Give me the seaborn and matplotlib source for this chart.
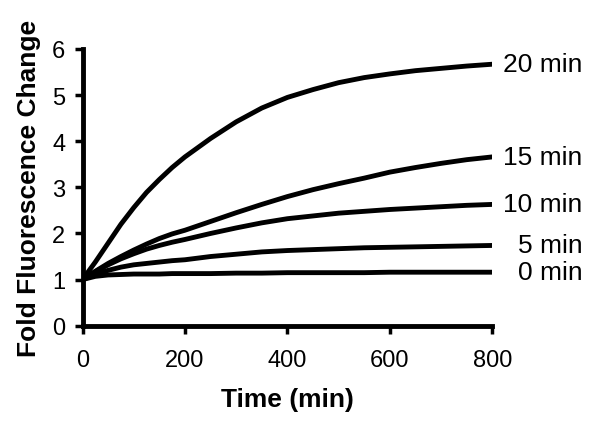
import pandas as pd
import matplotlib
matplotlib.use("Agg")
import matplotlib.pyplot as plt
import seaborn as sns

# values
time = [0, 25, 50, 75, 100, 125, 150, 175, 200, 250, 300, 350, 400, 450, 500, 550, 600, 650, 700, 750, 800]
min20 = [1.0, 1.38, 1.79, 2.2, 2.56, 2.89, 3.17, 3.43, 3.66, 4.06, 4.42, 4.72, 4.95, 5.12, 5.27, 5.38, 5.46, 5.53, 5.58, 5.63, 5.67]
min15 = [1.0, 1.18, 1.35, 1.5, 1.64, 1.77, 1.89, 1.99, 2.07, 2.26, 2.45, 2.63, 2.8, 2.95, 3.08, 3.2, 3.33, 3.43, 3.52, 3.6, 3.66]
min10 = [1.0, 1.17, 1.32, 1.45, 1.56, 1.66, 1.74, 1.81, 1.87, 2.0, 2.12, 2.23, 2.32, 2.38, 2.44, 2.48, 2.52, 2.55, 2.58, 2.61, 2.63]
min5 = [1.0, 1.11, 1.2, 1.27, 1.32, 1.35, 1.38, 1.41, 1.43, 1.5, 1.55, 1.6, 1.63, 1.65, 1.67, 1.69, 1.7, 1.71, 1.72, 1.73, 1.74]
min0 = [1.0, 1.07, 1.1, 1.11, 1.12, 1.12, 1.12, 1.13, 1.13, 1.13, 1.14, 1.14, 1.15, 1.15, 1.15, 1.15, 1.16, 1.16, 1.16, 1.16, 1.16]
names = ["20 min", "15 min", "10 min", "5 min", "0 min"]

df = pd.DataFrame({"Time": time, "20 min": min20, "15 min": min15,
                   "10 min": min10, "5 min": min5, "0 min": min0})
long = df.melt(id_vars="Time", var_name="Treatment", value_name="Fold")

sns.set_style("ticks")
plt.rcParams['font.family'] = ['Liberation Sans', 'DejaVu Sans']
plt.rcParams['text.color'] = 'black'
plt.rcParams['axes.labelcolor'] = 'black'
plt.rcParams['xtick.color'] = 'black'
plt.rcParams['ytick.color'] = 'black'

fig = plt.figure(figsize=(6, 4.31), dpi=100)
ax = fig.add_axes([0.1375, 0.242, 0.683, 0.642])
sns.lineplot(data=long, x="Time", y="Fold", hue="Treatment", hue_order=names,
             palette=["black"] * 5, linewidth=3.5, legend=False, ax=ax)
for l in ax.lines:
    l.set_solid_joinstyle("round")

# labels at the end of each curve
for n in names:
    ax.annotate(n, xy=(800, df[n].iloc[-1]), xytext=(90, 0),
                textcoords="offset pixels", ha="right", va="center", fontsize=19)

ax.set_xlim(0, 800)
ax.set_ylim(0, 6)
ax.set_xticks([0, 200, 400, 600, 800])
ax.set_yticks(range(0, 7))
ax.tick_params(labelsize=17, width=2.5, length=6, direction="out")
ax.tick_params(axis="x", pad=10.5)
ax.tick_params(axis="y", pad=6.5)
ax.set_xlabel("Time (min)", fontsize=19, fontweight="bold", labelpad=12)
ax.set_ylabel("Fold Fluorescence Change", fontsize=19, fontweight="bold", labelpad=8)
sns.despine(ax=ax)
for s in ["left", "bottom"]:
    ax.spines[s].set_linewidth(3.5)
    ax.spines[s].set_color("black")
ax.margins(0)

fig.savefig("out.png", dpi=100)
